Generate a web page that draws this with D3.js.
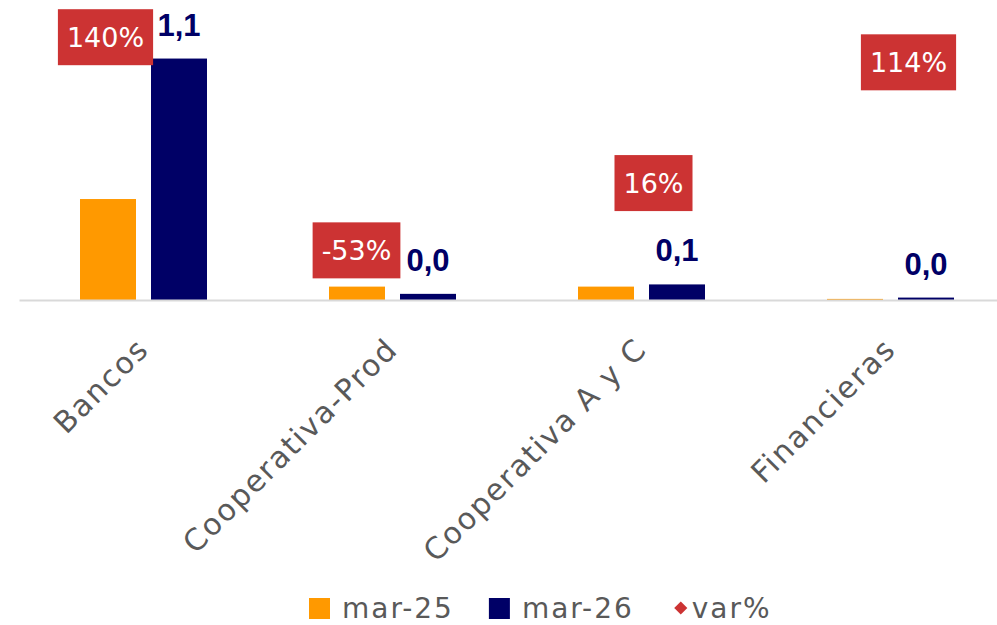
<!DOCTYPE html>
<html>
<head>
<meta charset="utf-8">
<script src="https://cdn.jsdelivr.net/npm/d3@7"></script>
<style>
  body { margin: 0; background: #fff; }
</style>
</head>
<body>
<div id="chart"></div>
<script>
// data
const categories = ["Bancos", "Cooperativa-Prod", "Cooperativa A y C", "Financieras"];
const mar25 = [0.46, 0.061, 0.061, 0.005];
const mar26 = [1.1, 0.028, 0.071, 0.011];
const varPct = [140, -53, 16, 114];
const seriesNames = ["mar-25", "mar-26", "var%"];

// var% label nudges (px), the labels were dragged around in the original
const varLabelDx = [-38, -36, 12, 18];
const varLabelDy = [0, -3, 7, -4];

function makeChart() {
    let svgWidth = 997;
    let svgHeight = 625;
    let baseY = 300;

    let orange = "#FF9900";
    let navy = "#000066";
    let red = "#CC3333";
    let gray = "#595959";

    let svg = d3.select("#chart")
        .append("svg")
        .attr("width", svgWidth)
        .attr("height", svgHeight);

    //scales
    let x0 = d3.scaleBand()
        .domain(categories)
        .range([19, 1015])
        .padding(0);

    let x1 = d3.scaleBand()
        .domain(["mar-25", "mar-26"])
        .range([0, x0.bandwidth()])
        .paddingInner(15 / 71)
        .paddingOuter(61 / 71);

    let y = d3.scaleLinear()
        .domain([0, 1.2])
        .range([baseY, baseY - 1.2 * 219.5]);

    let yVar = d3.scaleLinear()
        .domain([-100, 150])
        .range([306, 26]);

    let rows = categories.map((c, i) => ({
        cat: c, a: mar25[i], b: mar26[i], v: varPct[i], i: i
    }));

    //bars
    let groups = svg.selectAll("g.cat")
        .data(rows)
        .enter()
        .append("g")
        .attr("class", "cat")
        .attr("transform", d => `translate(${x0(d.cat)},0)`);

    groups.append("rect")
        .attr("x", x1("mar-25"))
        .attr("width", x1.bandwidth())
        .attr("y", d => y(d.a))
        .attr("height", d => baseY - y(d.a))
        .attr("fill", orange);

    groups.append("rect")
        .attr("x", x1("mar-26"))
        .attr("width", x1.bandwidth())
        .attr("y", d => y(d.b))
        .attr("height", d => baseY - y(d.b))
        .attr("fill", navy);

    //axis
    let xAxis = d3.axisBottom(x0).tickSize(0).tickPadding(0);
    let axisG = svg.append("g")
        .attr("transform", `translate(0, ${baseY})`)
        .call(xAxis);
    axisG.select(".domain")
        .attr("stroke", "#D9D9D9")
        .attr("stroke-width", 2);
    axisG.selectAll(".tick text")
        .attr("x", 0)
        .attr("y", 0)
        .attr("dy", 0)
        .attr("transform", "translate(7,51) rotate(-45)")
        .attr("text-anchor", "end")
        .attr("font-family", "'DejaVu Sans', sans-serif")
        .attr("font-size", "30px")
        .attr("letter-spacing", "1.8px")
        .attr("fill", gray);

    //value labels for mar-26
    let fmt = d3.format(".1f");
    groups.append("text")
        .attr("x", x1("mar-26") + x1.bandwidth() / 2)
        .attr("y", d => y(d.b) - 23)
        .attr("text-anchor", "middle")
        .attr("font-family", "'Liberation Sans', Arial, sans-serif")
        .attr("font-weight", "bold")
        .attr("font-size", "31px")
        .attr("fill", navy)
        .text(d => fmt(d.b).replace(".", ","));

    //var% labels
    let varG = svg.selectAll("g.var")
        .data(rows)
        .enter()
        .append("g")
        .attr("class", "var")
        .attr("transform", d => `translate(${x0(d.cat) + x0.bandwidth() / 2 + varLabelDx[d.i]}, ${yVar(d.v) + varLabelDy[d.i]})`);

    varG.append("rect").attr("fill", red);
    let texts = varG.append("text")
        .attr("text-anchor", "middle")
        .attr("dy", "0.36em")
        .attr("font-family", "'DejaVu Sans', sans-serif")
        .attr("font-size", "27px")
        .attr("fill", "#fff")
        .text(d => (d.v < 0 ? "-" : "") + Math.abs(d.v) + "%");

    texts.each(function(d) {
        let w = this.getComputedTextLength() + 18;
        d3.select(this.parentNode).select("rect")
            .attr("x", -w / 2)
            .attr("y", -28)
            .attr("width", w)
            .attr("height", 56);
    });

    //legend
    let legend = svg.append("g").attr("transform", "translate(309, 618)");
    let lx = 0;
    seriesNames.forEach(function(name, i) {
        if (i < 2) {
            legend.append("rect")
                .attr("x", lx)
                .attr("y", -20)
                .attr("width", 21)
                .attr("height", 21)
                .attr("fill", i === 0 ? orange : navy);
            lx += 33;
        } else {
            legend.append("path")
                .attr("d", d3.symbol(d3.symbolDiamond2, 110))
                .attr("transform", `translate(${lx + 12}, -10)`)
                .attr("fill", red);
            lx += 23;
        }
        let t = legend.append("text")
            .attr("x", lx)
            .attr("y", 0)
            .attr("font-family", "'DejaVu Sans', sans-serif")
            .attr("font-size", "28px")
            .attr("letter-spacing", "2px")
            .attr("fill", gray)
            .text(name);
        lx += t.node().getComputedTextLength() + 35;
    });
}

makeChart();
</script>
</body>
</html>
